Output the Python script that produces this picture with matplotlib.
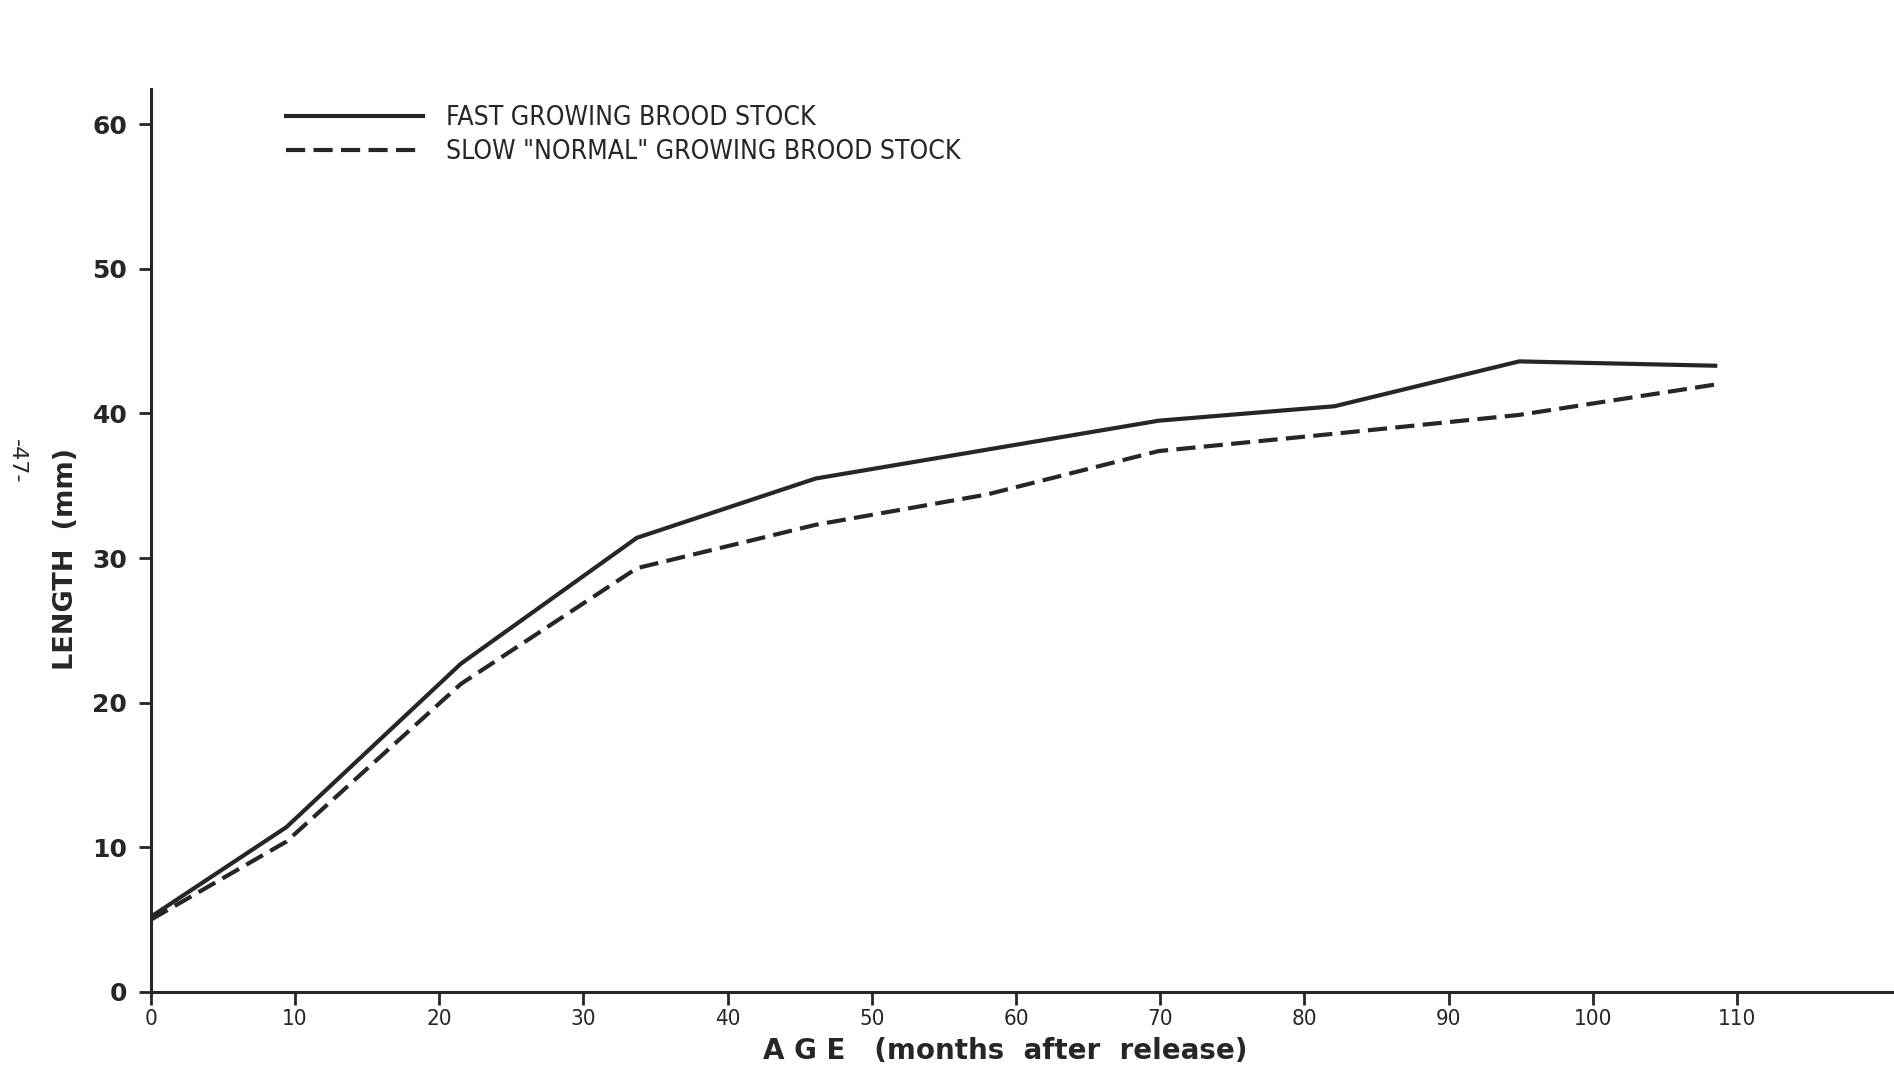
import matplotlib
matplotlib.use("Agg")
import matplotlib.pyplot as plt

# ---- data ----
age_months = [0, 9.4, 21.5, 33.7, 46.1, 58.0, 69.9, 82.1, 94.9, 108.5]
fast_length = [5.2, 11.4, 22.7, 31.4, 35.5, 37.5, 39.5, 40.5, 43.6, 43.3]
slow_length = [5.0, 10.4, 21.3, 29.3, 32.3, 34.4, 37.4, 38.6, 39.9, 42.0]
x_ticks = [0, 10, 20, 30, 40, 50, 60, 70, 80, 90, 100, 110]
x_tick_labels = ["0", "10", "20", "30", "40", "50", "60", "70", "80", "90", "100", "110"]
y_ticks = [0, 10, 20, 30, 40, 50, 60]
y_tick_labels = ["0", "10", "20", "30", "40", "50", "60"]
series_labels = ["FAST GROWING BROOD STOCK", 'SLOW "NORMAL" GROWING BROOD STOCK']

ink = "#262626"

fig = plt.figure(figsize=(18.94, 10.68), dpi=100)
ax = fig.add_axes([0.0797, 0.0712, 0.9203, 0.845])

ax.plot(age_months, fast_length, color=ink, lw=3.0, solid_joinstyle="round",
        label=series_labels[0])
ax.plot(age_months, slow_length, color=ink, lw=3.0, dashes=(4.6, 2.0),
        label=series_labels[1])

ax.set_xlim(0, 120.9)
ax.set_ylim(0, 62.4)

for s in ["top", "right"]:
    ax.spines[s].set_visible(False)
for s in ["left", "bottom"]:
    ax.spines[s].set_linewidth(2.2)
    ax.spines[s].set_color(ink)

ax.set_xticks(x_ticks)
ax.set_xticklabels(x_tick_labels, fontsize=16, color=ink)
for t in ax.get_xticklabels():
    t.set_fontstretch("condensed")
ax.set_yticks(y_ticks)
ax.set_yticklabels(y_tick_labels, fontsize=18, fontweight="bold", color=ink)
ax.tick_params(axis="both", direction="out", length=9, width=2, color=ink)
ax.tick_params(axis="x", pad=3)
ax.tick_params(axis="y", pad=8)

ax.set_ylabel("LENGTH  (mm)", fontsize=19.5, fontweight="bold", color=ink)
ax.yaxis.set_label_coords(-0.041, 0.48)
ax.set_xlabel("A G E   (months  after  release)", fontsize=20, fontweight="bold",
              color=ink, va="center")
ax.xaxis.set_label_coords(0.49, -0.065)

leg = ax.legend(loc="upper left", bbox_to_anchor=(0.0776, 0.983), frameon=False,
                fontsize=19, handlelength=5.2, handletextpad=0.85,
                labelspacing=0.32, borderaxespad=0, borderpad=0)
for t in leg.get_texts():
    t.set_color(ink)
    t.set_fontstretch("condensed")

fig.text(0.009, 0.568, "-47-", rotation=-90, fontsize=16, color=ink,
         ha="center", va="center")

fig.savefig("out.png", dpi=100, facecolor="white")
